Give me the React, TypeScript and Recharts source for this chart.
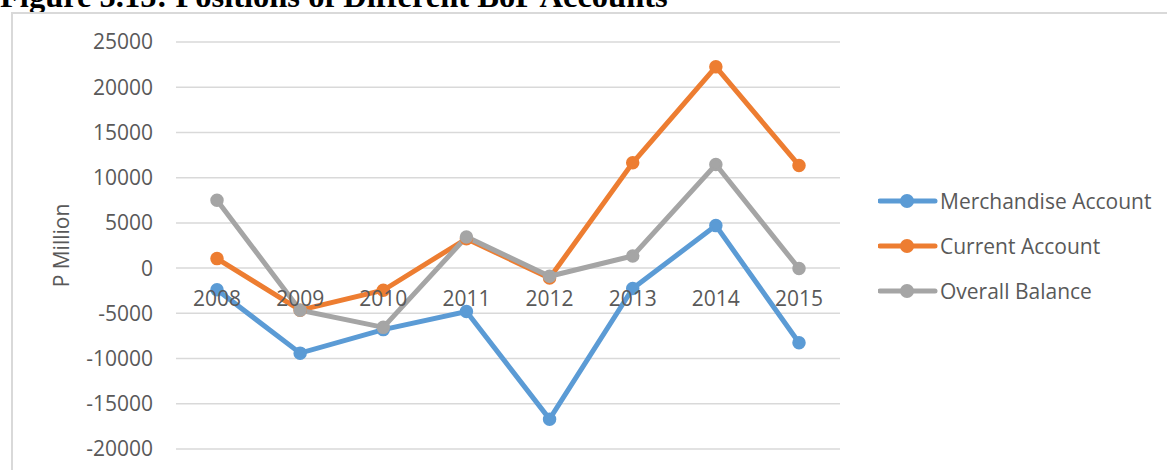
import * as React from "react";
import { LineChart, Line, CartesianGrid, XAxis, YAxis } from "recharts";

const years = ["2008", "2009", "2010", "2011", "2012", "2013", "2014", "2015"];
const merchandise = [-2400, -9400, -6800, -4800, -16700, -2250, 4700, -8250];
const current = [1050, -4650, -2450, 3250, -1100, 11650, 22250, 11350];
const overall = [7500, -4650, -6550, 3450, -900, 1350, 11450, -50];
const yTicks = [-20000, -15000, -10000, -5000, 0, 5000, 10000, 15000, 20000, 25000];

const SERIES = [
  { key: "merchandise", label: "Merchandise Account", color: "#5B9BD5" },
  { key: "current", label: "Current Account", color: "#ED7D31" },
  { key: "overall", label: "Overall Balance", color: "#A5A5A5" },
];

const data = years.map((year, i) => ({
  year,
  merchandise: merchandise[i],
  current: current[i],
  overall: overall[i],
}));

const FONT = "'Open Sans', sans-serif";
const TEXT = "#595959";
const GRID = "#D9D9D9";

// Excel puts the category labels right under the zero line, not at the bottom
function YearTick(props: any) {
  const { x, y, payload } = props;
  return (
    <text x={x} y={y - 157} textAnchor="middle" fill={TEXT} fontSize={21} fontFamily={FONT} dominantBaseline="middle">
      {payload.value}
    </text>
  );
}

function Legend() {
  return (
    <div style={{ position: "absolute", left: 878, top: 178 }}>
      {SERIES.map((s) => (
        <div key={s.key} style={{ display: "flex", alignItems: "center", height: 45, fontFamily: FONT, fontSize: 21, color: TEXT }}>
          <svg width={60} height={16} style={{ marginRight: 2 }}>
            <line x1={2} y1={8} x2={57} y2={8} stroke={s.color} strokeWidth={5} strokeLinecap="round" />
            <circle cx={29} cy={8} r={7} fill={s.color} />
          </svg>
          {s.label}
        </div>
      ))}
    </div>
  );
}

export default function App() {
  return (
    <div style={{ position: "fixed", left: 0, top: 0, width: 1167, height: 470, overflow: "hidden", background: "#fff" }}>
      <svg width={1167} height={30} style={{ position: "absolute", left: 0, top: 0 }}>
        <text x={0} y={7} fontFamily="'Liberation Serif', serif" fontWeight="bold" fontSize={32.5} fill="#000">
          Figure 5.15: Positions of Different BoP Accounts
        </text>
      </svg>
      <div style={{ position: "absolute", left: 11, top: 12, width: 1200, height: 500, border: `2px solid ${GRID}` }} />
      <div style={{ position: "absolute", left: 0, top: 0 }}>
        <LineChart width={1167} height={470} data={data} margin={{ top: 42, right: 327, left: 46, bottom: 1 }}>
          <CartesianGrid stroke={GRID} strokeWidth={1.5} vertical={false} />
          <XAxis
            dataKey="year"
            height={20}
            axisLine={false}
            tickLine={false}
            tick={<YearTick />}
            interval={0}
            padding={{ left: 41, right: 41 }}
          />
          <YAxis
            domain={[-20000, 25000]}
            ticks={yTicks}
            width={130}
            axisLine={false}
            tickLine={false}
            tickMargin={17}
            tick={{ fill: TEXT, fontSize: 21, fontFamily: FONT }}
            label={{ value: "P Million", angle: -90, position: "insideLeft", offset: 16, fill: TEXT, fontSize: 21, fontFamily: FONT, style: { textAnchor: "middle" } }}
          />
          {SERIES.map((s) => (
            <Line
              key={s.key}
              dataKey={s.key}
              name={s.label}
              stroke={s.color}
              strokeWidth={5}
              dot={{ r: 5.5, fill: s.color, stroke: s.color, strokeWidth: 2.5 }}
              isAnimationActive={false}
            />
          ))}
        </LineChart>
      </div>
      <Legend />
    </div>
  );
}
